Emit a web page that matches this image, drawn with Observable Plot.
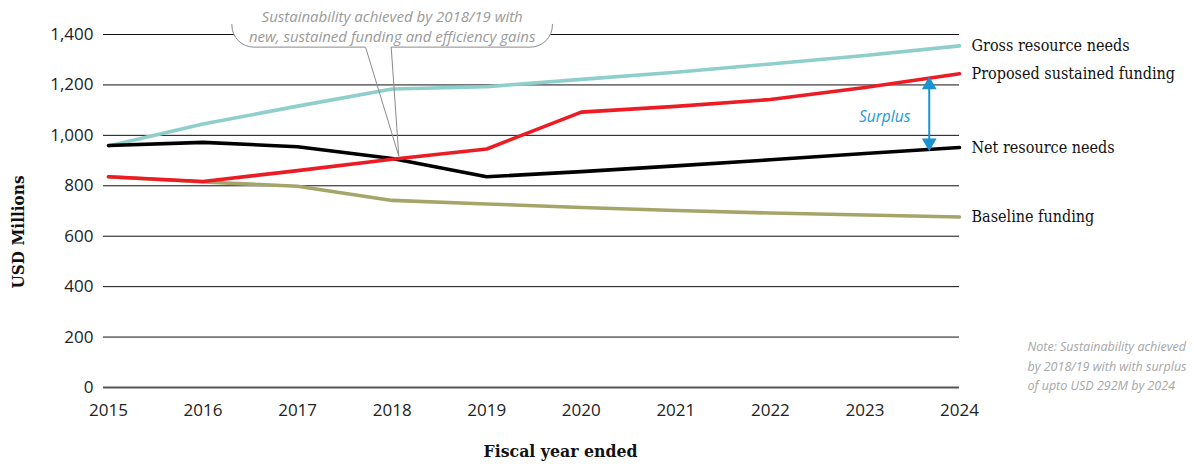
<!DOCTYPE html>
<html>
<head>
<meta charset="utf-8">
<script src="https://cdn.jsdelivr.net/npm/d3@7"></script>
<script src="https://cdn.jsdelivr.net/npm/@observablehq/plot@0.6"></script>
<style>
  html, body { margin: 0; padding: 0; background: #fff; }
  #chart svg { display: block; }
</style>
</head>
<body>
<div id="chart"></div>
<script>
// ---- data ----
const years = [2015, 2016, 2017, 2018, 2019, 2020, 2021, 2022, 2023, 2024];
const grossNeeds    = [958, 1045, 1116, 1184, 1193, 1222, 1250, 1283, 1317, 1355];
const proposedFund  = [836, 817, 860, 905, 946, 1092, 1115, 1142, 1190, 1244];
const netNeeds      = [960, 972, 955, 908, 836, 856, 879, 903, 928, 952];
const baselineFund  = [836, 815, 798, 742, 728, 714, 702, 692, 684, 676];
const seriesNames   = ["Gross resource needs", "Proposed sustained funding", "Net resource needs", "Baseline funding"];
const seriesColors  = ["#8ecfcb", "#ed1c24", "#000000", "#a5a56a"];
const yTicks        = [0, 200, 400, 600, 800, 1000, 1200, 1400];
const xTicks        = years;

// annotations
const calloutLines  = ["Sustainability achieved by 2018/19 with", "new, sustained funding and efficiency gains"];
const calloutBox    = {x1: 2016.31, x2: 2019.70, y1: 1348, y2: 1620};
const calloutMask   = {x1: 2016.25, x2: 2019.76, y1: 1440, y2: 1640};
const calloutTextAt = {year: 2018.0, value: 1436};
const pointer       = [{year: 2017.72, value: 1348}, {year: 2018.07, value: 918}, {year: 2017.99, value: 1348}];
const surplusArrow  = {year: 2023.68, top: 1213, bottom: 958};
const surplusLabel  = {year: 2023.48, value: 1073, text: "Surplus"};
const noteText      = "Note: Sustainability achieved\nby 2018/19 with with surplus\nof upto USD 292M by 2024";

// ---- build table ----
const seriesValues = [grossNeeds, proposedFund, netNeeds, baselineFund];
const rows = [];
seriesNames.forEach((name, i) => years.forEach((yr, j) => rows.push({series: name, year: yr, value: seriesValues[i][j]})));
const ends = seriesNames.map((name, i) => ({series: name, year: years[years.length - 1], value: seriesValues[i][years.length - 1]}));
const drawOrder = ["Baseline funding", "Gross resource needs", "Net resource needs", "Proposed sustained funding"];
const colorOf = Object.fromEntries(seriesNames.map((n, i) => [n, seriesColors[i]]));

const labelFont = "'DejaVu Serif Condensed', 'Liberation Serif', serif";
const italicFont = "'Open Sans', 'Noto Sans', sans-serif";

const chart = Plot.plot({
  width: 1194,
  height: 464,
  marginTop: 34,
  marginBottom: 77,
  marginLeft: 103,
  marginRight: 235,
  insetLeft: 5,
  style: {fontFamily: "'Open Sans', sans-serif", fontSize: "17px", color: "#222", background: "#fff", overflow: "visible"},
  x: {domain: [2015, 2024], ticks: xTicks, tickFormat: d => String(d), tickSize: 0, tickPadding: 16, label: null},
  y: {domain: [0, 1400], ticks: yTicks, tickFormat: d3.format(","), tickSize: 0, tickPadding: 10, label: null},
  marks: [
    Plot.ruleY(yTicks.filter(d => d > 0), {stroke: "#111", strokeWidth: 1}),
    Plot.ruleY([0], {stroke: "#555", strokeWidth: 2}),
    ...drawOrder.map(name => Plot.line(rows.filter(r => r.series === name), {
      x: "year", y: "value", stroke: colorOf[name], strokeWidth: 3.6, strokeLinejoin: "round", strokeLinecap: "round"
    })),
    Plot.text(ends, {x: "year", y: "value", text: "series", dx: 12, textAnchor: "start",
      fontFamily: labelFont, fontSize: 16, fill: "#111"}),
    // callout bubble
    Plot.rect([calloutBox], {x1: "x1", x2: "x2", y1: "y1", y2: "y2", rx: 22, fill: "#fff", stroke: "#8a8a8a", strokeWidth: 1}),
    Plot.rect([calloutMask], {x1: "x1", x2: "x2", y1: "y1", y2: "y2", fill: "#fff"}),
    Plot.ruleY([pointer[0].value], {x1: pointer[0].year, x2: pointer[2].year, stroke: "#fff", strokeWidth: 3}),
    Plot.line(pointer, {x: "year", y: "value", stroke: "#8a8a8a", strokeWidth: 1}),
    Plot.text([calloutLines.join("\n")], {x: calloutTextAt.year, y: calloutTextAt.value, text: d => d,
      fontFamily: italicFont, fontStyle: "italic", fontSize: 15, fill: "#9a9a9a", lineHeight: 1.33, lineAnchor: "middle"}),
    // surplus arrow
    Plot.ruleX([surplusArrow.year], {y1: surplusArrow.bottom + 20, y2: surplusArrow.top - 20, stroke: "#1a93d2", strokeWidth: 2}),
    Plot.dot([{v: surplusArrow.top - 13, r: 0}, {v: surplusArrow.bottom + 13, r: 180}], {
      x: () => surplusArrow.year, y: "v", symbol: "triangle", rotate: "r", r: 5.5, fill: "#1a93d2", stroke: "none"}),
    Plot.text([surplusLabel], {x: "year", y: "value", text: "text", textAnchor: "end",
      fontFamily: italicFont, fontStyle: "italic", fontSize: 15.5, fill: "#1a9ad6"}),
    // note
    Plot.text([noteText], {frameAnchor: "bottom-right", dx: 68, dy: -23, text: d => d, textAnchor: "start", lineAnchor: "middle",
      fontFamily: italicFont, fontStyle: "italic", fontSize: 12.5, fill: "#a6a6a6", lineHeight: 1.56}),
    // axis titles
    Plot.text(["USD Millions"], {frameAnchor: "left", dx: -85, dy: 21, rotate: -90, textAnchor: "middle", lineAnchor: "middle", text: d => d,
      fontFamily: labelFont, fontWeight: "bold", fontSize: 17, fill: "#111"}),
    Plot.text(["Fiscal year ended"], {frameAnchor: "bottom", dx: 29, dy: 64, textAnchor: "middle", lineAnchor: "middle", text: d => d,
      fontFamily: labelFont, fontWeight: "bold", fontSize: 17.5, fill: "#111"})
  ]
});
document.getElementById("chart").append(chart);
</script>
</body>
</html>
